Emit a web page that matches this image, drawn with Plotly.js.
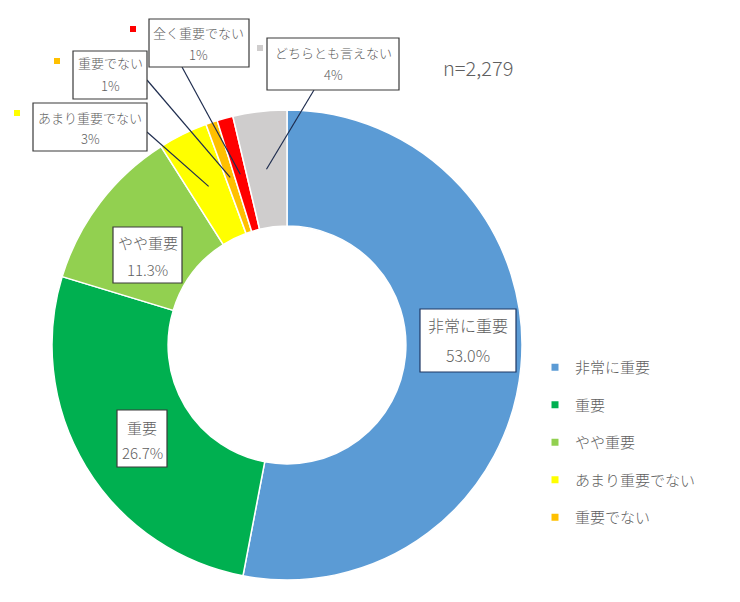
<!DOCTYPE html>
<html>
<head>
<meta charset="utf-8">
<script src="https://cdn.plot.ly/plotly-3.0.1.min.js"></script>
<style>html,body{margin:0;padding:0;background:#fff;}#chart{width:740px;height:602px;}</style>
</head>
<body>
<div id="chart"></div>
<script>
// ---- data ----
const categories = ["非常に重要", "重要", "やや重要", "あまり重要でない", "重要でない", "全く重要でない", "どちらとも言えない"];
const values = [53.0, 26.7, 11.3, 3.4, 0.8, 1.1, 3.7];
const colors = ["#5B9BD5", "#00B050", "#92D050", "#FFFF00", "#FFC000", "#FF0000", "#CFCDCD"];
const pctDecimals = [1, 1, 1, 0, 0, 0, 0];
const legendShown = 5; // legend is cut off after five entries
const sampleNote = "n=2,279";

// ---- layout helpers (pixel -> paper) ----
const W = 740, H = 602;
const px = x => x / W;
const py = y => 1 - y / H;
const FONT = '"Noto Sans CJK JP", "Noto Sans", sans-serif';
const TXT = "#5F5F5F";
const WEIGHT = 300;
const pieBox = {x0: 52, x1: 522, y0: 110, y1: 580};
const hole = 0.506;
const cx = (pieBox.x0 + pieBox.x1) / 2, cy = (pieBox.y0 + pieBox.y1) / 2;
const R = (pieBox.x1 - pieBox.x0) / 2;
const rMid = R * (1 + hole) / 2;

// callout box styling per category (pixel positions)
const callouts = [
  {box: [420, 309, 516, 372], l1: 325, l2: 355, size: 16, border: "#1F3864"},
  {box: [117, 410, 167, 467], l1: 427, l2: 452, size: 15, border: "#3A3A3A"},
  {box: [113, 227, 182, 283], l1: 243, l2: 269, size: 15, border: "#3A3A3A"},
  {box: [33, 103, 147, 151], l1: 117, l2: 138, size: 13, border: "#3A3A3A", lead: [147, 132], key: [17, 113]},
  {box: [73, 51, 147, 99], l1: 63, l2: 86, size: 13, border: "#3A3A3A", lead: [147, 80], key: [57, 61]},
  {box: [149, 19, 249, 67], l1: 33, l2: 55, size: 13, border: "#3A3A3A", lead: [182, 67], key: [133, 29]},
  {box: [267, 38, 399, 90], l1: 53, l2: 75, size: 13, border: "#3A3A3A", lead: [314, 90], key: [260, 48]}
];

const total = values.reduce((a, b) => a + b, 0);
const shapes = [];
const annotations = [];
let cum = 0;
values.forEach((v, i) => {
  const mid = (cum + v / 2) / total;
  cum += v;
  const th = 2 * Math.PI * mid;
  const ex = cx + rMid * Math.sin(th);
  const ey = cy - rMid * Math.cos(th);
  const c = callouts[i];
  if (c.lead) {
    shapes.push({type: "line", xref: "paper", yref: "paper",
      x0: px(c.lead[0]), y0: py(c.lead[1]), x1: px(ex), y1: py(ey),
      line: {color: "#1F2D4F", width: 1.2}});
  }
  shapes.push({type: "rect", xref: "paper", yref: "paper",
    x0: px(c.box[0]), x1: px(c.box[2]), y0: py(c.box[3]), y1: py(c.box[1]),
    fillcolor: "#FFFFFF", line: {color: c.border, width: 1.2}});
  if (c.key) {
    shapes.push({type: "rect", xref: "paper", yref: "paper",
      x0: px(c.key[0] - 3), x1: px(c.key[0] + 3), y0: py(c.key[1] + 3), y1: py(c.key[1] - 3),
      fillcolor: colors[i], line: {width: 0}});
  }
  const xc = px((c.box[0] + c.box[2]) / 2);
  const pct = (100 * v / total).toFixed(pctDecimals[i]) + "%";
  annotations.push({text: categories[i], x: xc, y: py(c.l1), xref: "paper", yref: "paper",
    xanchor: "center", yanchor: "middle", showarrow: false, font: {family: FONT, size: c.size, color: TXT, weight: WEIGHT}});
  annotations.push({text: pct, x: xc, y: py(c.l2), xref: "paper", yref: "paper",
    xanchor: "center", yanchor: "middle", showarrow: false, font: {family: FONT, size: c.size, color: TXT, weight: WEIGHT}});
});

annotations.push({text: sampleNote, x: px(478), y: py(67), xref: "paper", yref: "paper",
  xanchor: "center", yanchor: "middle", showarrow: false, font: {family: FONT, size: 20, color: TXT, weight: WEIGHT}});

const traces = [{
  type: "pie",
  labels: categories,
  values: values,
  sort: false,
  direction: "clockwise",
  rotation: 0,
  hole: hole,
  textinfo: "none",
  hoverinfo: "label+percent",
  showlegend: false,
  marker: {colors: colors, line: {color: "#FFFFFF", width: 1.5}},
  domain: {x: [px(pieBox.x0), px(pieBox.x1)], y: [py(pieBox.y1), py(pieBox.y0)]}
}];

for (let i = 0; i < legendShown; i++) {
  traces.push({
    type: "scatter", mode: "markers", x: [null], y: [null],
    name: categories[i], legendgroup: "g" + i, showlegend: true,
    marker: {symbol: "square", size: 7, color: colors[i]},
    hoverinfo: "skip"
  });
}

const layout = {
  width: W, height: H,
  margin: {l: 0, r: 0, t: 0, b: 0},
  paper_bgcolor: "#FFFFFF", plot_bgcolor: "#FFFFFF",
  font: {family: FONT, color: TXT},
  xaxis: {visible: false, domain: [0.99, 1]},
  yaxis: {visible: false, domain: [0.99, 1]},
  showlegend: true,
  legend: {
    x: px(535), y: py(351), xanchor: "left", yanchor: "top",
    traceorder: "grouped", tracegroupgap: 15,
    font: {family: FONT, size: 15, color: TXT, weight: WEIGHT},
    bgcolor: "rgba(0,0,0,0)", borderwidth: 0
  },
  shapes: shapes,
  annotations: annotations
};

Plotly.newPlot("chart", traces, layout, {displayModeBar: false, staticPlot: true});
</script>
</body>
</html>
